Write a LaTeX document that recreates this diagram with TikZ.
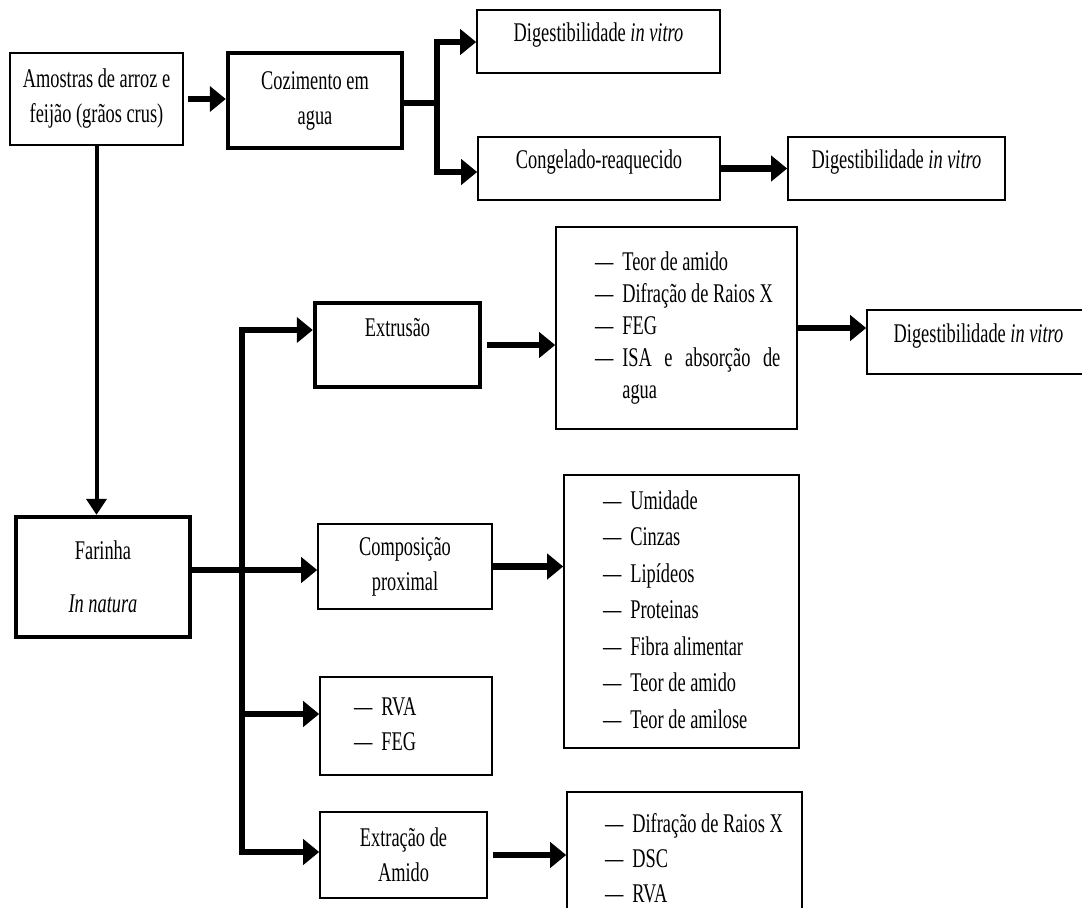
\documentclass[tikz,border=0pt]{standalone}
\usepackage{fontspec}
\setmainfont{Liberation Serif}[FakeStretch=0.68]
\usepackage{tikz}
\usetikzlibrary{arrows.meta}
\tikzset{
  thin_box/.style={rectangle, draw=black, line width=0.8pt, align=center, inner sep=0pt, font=\fontsize{13.5}{17.5}\selectfont},
  thick_box/.style={rectangle, draw=black, line width=2.2pt, align=center, inner sep=0pt, font=\fontsize{13.5}{17.5}\selectfont},
  list_box/.style={rectangle, draw=black, line width=0.8pt, inner ysep=0pt, font=\fontsize{13.5}{#1}\selectfont},
  one_line/.style={text depth=9pt},
  arrow/.style={-{Triangle[length=8pt, width=12.5pt]}, line width=3.2pt, black},
  arrow_thin/.style={-{Triangle[length=8pt, width=10pt]}, line width=2pt, black},
  branch/.style={line width=2.8pt, black, line cap=rect}
}
% list of items, left aligned inside a box of fixed width
\newcommand{\dashlist}[2]{\makebox[#1][l]{\begin{tabular}{@{}l@{}}#2\end{tabular}}}
\newcommand{\itemdash}{—\hspace{4.5pt}}

\begin{document}
\begin{tikzpicture}[x=0.5pt, y=-0.5pt]
  \useasboundingbox (0,0) rectangle (1082,907);
  \clip (0,0) rectangle (1082,907);
  \fill[white] (0,0) rectangle (1082,907);

  % --- 1. Top row: samples and cooking ---
  \node[thin_box, minimum width=86.5pt, minimum height=46pt] (amostras) at (96.5,99) {Amostras de arroz e\\feijão (grãos crus)};
  \node[thick_box, minimum width=87pt, minimum height=47.5pt] (cozimento) at (315,100.5) {Cozimento em\\agua};
  \node[thin_box, one_line, minimum width=121.5pt, minimum height=31.5pt] (dig_a) at (598.5,41.5) {Digestibilidade \textit{in vitro}};
  \node[thin_box, one_line, minimum width=121pt, minimum height=31.5pt] (congelado) at (599,168.5) {Congelado-reaquecido};
  \node[thin_box, one_line, minimum width=108.5pt, minimum height=31.5pt] (dig_b) at (896.5,168.5) {Digestibilidade \textit{in vitro}};

  % split after cooking
  \coordinate (cozSplit) at (437,103);
  \coordinate (cozTop) at (437,42);
  \coordinate (cozBot) at (437,172);

  \draw[arrow, shorten <=2pt] (amostras.east) -- (amostras.east -| cozimento.west);
  \draw[branch] (cozimento.east |- cozSplit) -- (cozSplit);
  \draw[branch] (cozTop) -- (cozBot);
  \draw[arrow] (cozTop) -- (cozTop -| dig_a.west);
  \draw[arrow] (cozBot) -- (cozBot -| congelado.west);
  \draw[arrow] (congelado.east) -- (congelado.east -| dig_b.west);

  % --- 2. Flour ---
  \node[thick_box, minimum width=87pt, minimum height=60pt, font=\fontsize{13.5}{26.5}\selectfont] (farinha) at (103,577) {Farinha\\\textit{In natura}};
  \draw[arrow_thin] (amostras.south) -- (amostras.south |- farinha.north);

  % --- 3. Branches of the flour ---
  \node[thick_box, minimum width=82.5pt, minimum height=42pt] (extrusao) at (397.5,345) {Extrusão\\~};
  \node[list_box=16, minimum width=120.5pt, minimum height=101pt, inner xsep=19.5pt] (lista) at (676.5,328)
    {\dashlist{81.5pt}{\itemdash Teor de amido\\\itemdash Difração de Raios X\\\itemdash FEG\\\itemdash\makebox[79pt][s]{ISA e absorção de}\\\phantom{\itemdash}agua}};
  \node[thin_box, one_line, minimum width=111.5pt, minimum height=32pt] (dig_c) at (978.5,342) {Digestibilidade \textit{in vitro}};

  \node[thin_box, minimum width=87pt, minimum height=42.5pt] (composicao) at (405,566.5) {Composição\\proximal};
  \node[list_box=18.25, minimum width=117.5pt, minimum height=136.5pt, inner xsep=19.5pt] (listb) at (681.5,611.5)
    {\dashlist{78.5pt}{\itemdash Umidade\\\itemdash Cinzas\\\itemdash Lipídeos\\\itemdash Proteinas\\\itemdash Fibra alimentar\\\itemdash Teor de amido\\\itemdash Teor de amilose}};

  \node[list_box=17.5, minimum width=86pt, minimum height=49pt, inner xsep=17pt] (rva) at (406,726)
    {\dashlist{52pt}{\itemdash RVA\\\itemdash FEG}};

  \node[thin_box, minimum width=83.5pt, minimum height=43pt] (extracao) at (403.5,855) {Extração de\\Amido};
  \node[list_box=17.5, minimum width=117.5pt, minimum height=68pt, inner xsep=19pt] (listc) at (684.5,860)
    {\dashlist{79.5pt}{\itemdash Difração de Raios X\\\itemdash DSC\\\itemdash RVA}};

  % trunk
  \coordinate (trunkTop) at (242,330);
  \coordinate (trunkMid) at (242,570);
  \coordinate (trunkRva) at (242,714);
  \coordinate (trunkBot) at (242,852);

  \draw[branch] (trunkTop) -- (trunkBot);
  \draw[branch] (farinha.east |- trunkMid) -- (trunkMid);
  \draw[arrow] (trunkTop) -- (trunkTop -| extrusao.west);
  \draw[arrow] (trunkMid) -- (trunkMid -| composicao.west);
  \draw[arrow] (trunkRva) -- (trunkRva -| rva.west);
  \draw[arrow] (trunkBot) -- (trunkBot -| extracao.west);

  % --- 4. Results ---
  \draw[arrow, shorten <=2.5pt] (extrusao.east) -- (extrusao.east -| lista.west);
  \draw[arrow] (lista.east) -- (lista.east -| dig_c.west);
  \draw[arrow] (composicao.east) -- (composicao.east -| listb.west);
  \draw[arrow, shorten <=2.5pt] (extracao.east) -- (extracao.east -| listc.west);
\end{tikzpicture}
\end{document}
